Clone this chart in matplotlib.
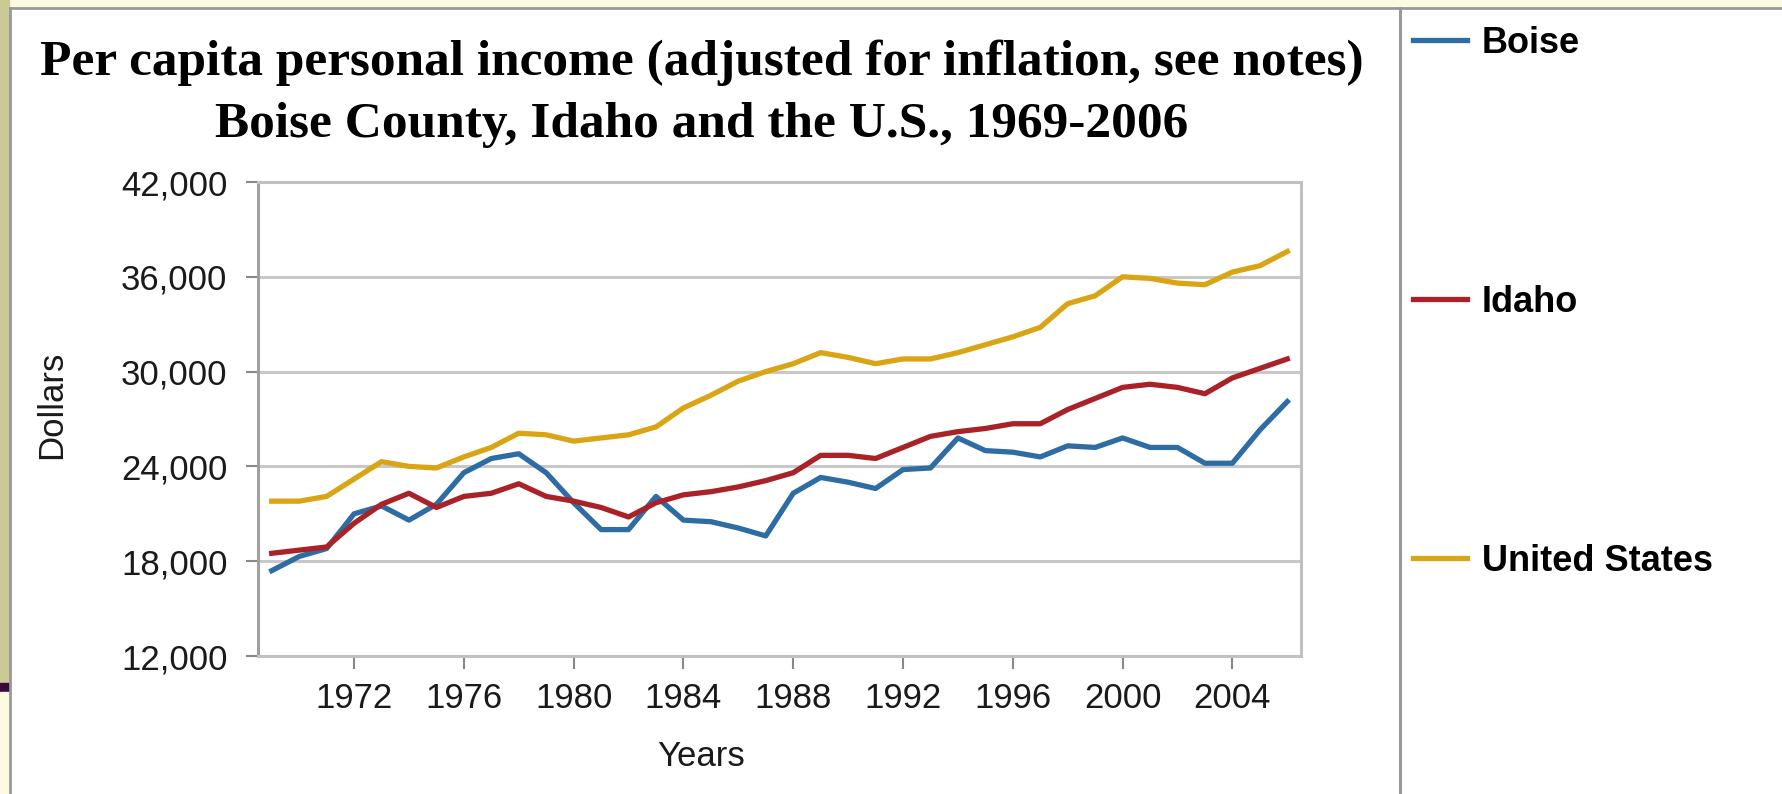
import matplotlib
matplotlib.use('Agg')
import matplotlib.pyplot as plt
from matplotlib.patches import Rectangle
from matplotlib.lines import Line2D
from matplotlib.ticker import FuncFormatter

# per capita personal income, inflation adjusted
years = list(range(1969, 2007))
boise = [17400, 18300, 18800, 21000, 21500, 20600, 21600, 23600, 24500, 24800,
         23600, 21700, 20000, 20000, 22100, 20600, 20500, 20100, 19600, 22300,
         23300, 23000, 22600, 23800, 23900, 25800, 25000, 24900, 24600, 25300,
         25200, 25800, 25200, 25200, 24200, 24200, 26300, 28100]
idaho = [18500, 18700, 18900, 20400, 21600, 22300, 21400, 22100, 22300, 22900,
         22100, 21800, 21400, 20800, 21700, 22200, 22400, 22700, 23100, 23600,
         24700, 24700, 24500, 25200, 25900, 26200, 26400, 26700, 26700, 27600,
         28300, 29000, 29200, 29000, 28600, 29600, 30200, 30800]
united_states = [21800, 21800, 22100, 23200, 24300, 24000, 23900, 24600, 25200, 26100,
                 26000, 25600, 25800, 26000, 26500, 27700, 28500, 29400, 30000, 30500,
                 31200, 30900, 30500, 30800, 30800, 31200, 31700, 32200, 32800, 34300,
                 34800, 36000, 35900, 35600, 35500, 36300, 36700, 37600]

series_names = ['Boise', 'Idaho', 'United States']
series_colors = ['#2e6da4', '#a82228', '#d9a514']
x_ticks = list(range(1972, 2005, 4))
y_ticks = list(range(12000, 42001, 6000))

W, H = 1783, 794
fig = plt.figure(figsize=(W / 100, H / 100), dpi=100, facecolor='white')


def fx(px):
    return px / W


def fy(py):
    return 1 - py / H


# slide background around the pasted chart
tf = fig.transFigure
fig.add_artist(Rectangle((0, fy(7)), 1, 7 / H, transform=tf, color='#fdfbdf', zorder=0))
fig.add_artist(Rectangle((0, fy(683)), fx(9), 683 / H, transform=tf, color='#cbc996', zorder=1))
fig.add_artist(Rectangle((0, fy(692)), fx(9), 9 / H, transform=tf, color='#3a0a3a', zorder=1))
fig.add_artist(Rectangle((0, 0), fx(9), fy(692), transform=tf, color='#fdfbdf', zorder=1))
fig.add_artist(Line2D([fx(10), fx(10)], [0, fy(8)], transform=tf, color='#999999', lw=2))
fig.add_artist(Line2D([fx(10), 1], [fy(8), fy(8)], transform=tf, color='#999999', lw=2))
fig.add_artist(Line2D([fx(1400), fx(1400)], [0, fy(8)], transform=tf, color='#999999', lw=2.2))

ax = fig.add_axes([fx(258), fy(656), fx(1301) - fx(258), (656 - 182) / H])
for name, vals, c in zip(series_names, [boise, idaho, united_states], series_colors):
    ax.plot(years, vals, color=c, lw=3.8, label=name, solid_joinstyle='round')

ax.set_xlim(1968.5, 2006.5)
ax.set_ylim(12000, 42000)
ax.set_xticks(x_ticks)
ax.set_yticks(y_ticks)
ax.yaxis.set_major_formatter(FuncFormatter(lambda v, p: f'{int(v):,}'))
ax.grid(axis='y', color='#c8c8c8', lw=2.2)
ax.set_axisbelow(True)
for side in ['top', 'right', 'bottom']:
    ax.spines[side].set_color('#c0c0c0')
    ax.spines[side].set_linewidth(2.2)
ax.spines['left'].set_color('#a0a0a0')
ax.spines['left'].set_linewidth(2.2)
ax.tick_params(length=9, width=1.5, color='#888888', labelsize=25,
               labelcolor='#1a1a1a')
ax.tick_params(axis='x', pad=10)
ax.tick_params(axis='y', pad=13)
for lab in ax.get_xticklabels() + ax.get_yticklabels():
    lab.set_family('Liberation Sans')

fig.text(fx(702), fy(75), 'Per capita personal income (adjusted for inflation, see notes)',
         ha='center', va='baseline', family='Liberation Serif', weight='bold', size=37)
fig.text(fx(702), fy(137), 'Boise County, Idaho and the U.S., 1969-2006',
         ha='center', va='baseline', family='Liberation Serif', weight='bold', size=37)
fig.text(fx(701), fy(757), 'Years', ha='center', va='center',
         family='Liberation Sans', size=25, color='#1a1a1a')
fig.text(fx(52), fy(405), 'Dollars', ha='center', va='center', rotation=90,
         family='Liberation Sans', size=25, color='#1a1a1a')

fig.legend(loc='upper left', bbox_to_anchor=(fx(1413), fy(26)), frameon=False,
           prop={'family': 'Liberation Sans', 'weight': 'bold', 'size': 26},
           handlelength=1.5, handletextpad=0.4, labelspacing=6.2,
           borderpad=0, borderaxespad=0)

fig.savefig('out.png', dpi=100, facecolor=fig.get_facecolor())
